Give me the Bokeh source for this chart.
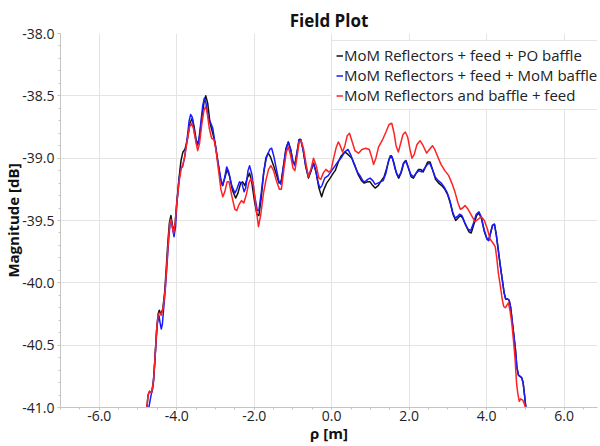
from bokeh.plotting import figure
from bokeh.models import Legend, LegendItem, PrintfTickFormatter, SingleIntervalTicker, Range1d
from bokeh.embed import file_html
from bokeh.resources import INLINE

# ---------------- data ----------------
title_text = "Field Plot"
x_label = "ρ [m]"
y_label = "Magnitude [dB]"
series_names = ["MoM Reflectors + feed + PO baffle",
                "MoM Reflectors + feed + MoM baffle",
                "MoM Reflectors and baffle + feed"]

rho_po = [-4.77, -4.74, -4.70, -4.65, -4.60, -4.56, -4.52, -4.48, -4.45, -4.41, -4.36, -4.31, -4.27, -4.23,
          -4.19, -4.15, -4.11, -4.08, -4.04, -4.00, -3.94, -3.89, -3.84, -3.79, -3.73, -3.66, -3.60, -3.55,
          -3.50, -3.46, -3.41, -3.35, -3.29, -3.25, -3.20, -3.14, -3.07, -3.01, -2.94, -2.87, -2.82, -2.76,
          -2.70, -2.64, -2.56, -2.48, -2.42, -2.35, -2.30, -2.24, -2.18, -2.12, -2.06, -1.99, -1.93, -1.88,
          -1.82, -1.76, -1.70, -1.64, -1.58, -1.50, -1.42, -1.36, -1.30, -1.24, -1.18, -1.12, -1.06, -1.00,
          -0.95, -0.89, -0.84, -0.80, -0.74, -0.67, -0.60, -0.53, -0.47, -0.40, -0.33, -0.26, -0.20, -0.13,
          -0.04, 0.04, 0.09, 0.17, 0.25, 0.34, 0.42, 0.52, 0.60, 0.68, 0.77, 0.84, 0.92, 0.99, 1.06, 1.12,
          1.20, 1.28, 1.35, 1.42, 1.48, 1.54, 1.60, 1.67, 1.73, 1.80, 1.86, 1.92, 1.98, 2.05, 2.11, 2.18,
          2.24, 2.30, 2.36, 2.42, 2.48, 2.54, 2.61, 2.68, 2.76, 2.84, 2.92, 2.99, 3.06, 3.13, 3.20, 3.26,
          3.32, 3.38, 3.46, 3.54, 3.60, 3.67, 3.74, 3.80, 3.87, 3.94, 4.01, 4.05, 4.10, 4.15, 4.20, 4.25,
          4.30, 4.35, 4.40, 4.45, 4.49, 4.54, 4.58, 4.62, 4.66, 4.70, 4.74, 4.78, 4.82, 4.86, 4.90, 4.94,
          4.98, 5.01]
mag_po = [-41.00, -40.90, -40.87, -40.88, -40.79, -40.60, -40.38, -40.25, -40.22, -40.25, -40.21, -40.07,
          -39.88, -39.68, -39.52, -39.46, -39.54, -39.59, -39.52, -39.36, -39.16, -39.02, -38.95, -38.93,
          -38.86, -38.72, -38.68, -38.75, -38.85, -38.89, -38.83, -38.67, -38.54, -38.50, -38.56, -38.72,
          -38.80, -38.88, -39.03, -39.17, -39.22, -39.16, -39.09, -39.14, -39.26, -39.32, -39.28, -39.20,
          -39.19, -39.22, -39.16, -39.12, -39.20, -39.35, -39.45, -39.46, -39.32, -39.13, -39.00, -38.96,
          -38.99, -39.06, -39.14, -39.20, -39.18, -39.05, -38.92, -38.87, -38.93, -39.03, -39.05, -38.94,
          -38.85, -38.85, -38.93, -39.07, -39.16, -39.10, -39.04, -39.12, -39.24, -39.31, -39.25, -39.20,
          -39.16, -39.12, -39.10, -39.03, -38.98, -38.95, -38.97, -39.00, -39.06, -39.13, -39.18, -39.20,
          -39.19, -39.19, -39.22, -39.24, -39.22, -39.18, -39.15, -39.08, -39.01, -38.98, -39.03, -39.12,
          -39.16, -39.11, -39.04, -39.02, -39.08, -39.15, -39.16, -39.12, -39.09, -39.09, -39.11, -39.07,
          -39.03, -39.03, -39.10, -39.17, -39.20, -39.22, -39.25, -39.29, -39.36, -39.45, -39.50, -39.48,
          -39.46, -39.48, -39.54, -39.59, -39.60, -39.53, -39.46, -39.44, -39.49, -39.59, -39.65, -39.66,
          -39.60, -39.54, -39.53, -39.62, -39.74, -39.86, -39.97, -40.08, -40.13, -40.13, -40.14, -40.20,
          -40.31, -40.42, -40.53, -40.68, -40.74, -40.75, -40.76, -40.80, -40.91, -41.00]

rho_mom = [-4.72, -4.68, -4.65, -4.62, -4.58, -4.54, -4.50, -4.46, -4.43, -4.40, -4.37, -4.33, -4.29, -4.25,
           -4.21, -4.17, -4.14, -4.10, -4.07, -4.03, -4.00, -3.95, -3.90, -3.85, -3.80, -3.73, -3.68, -3.64,
           -3.60, -3.54, -3.48, -3.44, -3.38, -3.33, -3.29, -3.25, -3.19, -3.12, -3.07, -3.00, -2.93, -2.86,
           -2.81, -2.76, -2.71, -2.66, -2.58, -2.50, -2.45, -2.38, -2.32, -2.26, -2.22, -2.16, -2.12, -2.06,
           -1.99, -1.92, -1.88, -1.82, -1.75, -1.68, -1.60, -1.55, -1.49, -1.42, -1.36, -1.31, -1.25, -1.18,
           -1.12, -1.06, -1.00, -0.95, -0.89, -0.84, -0.80, -0.74, -0.67, -0.60, -0.53, -0.47, -0.41, -0.35,
           -0.30, -0.25, -0.18, -0.09, 0.00, 0.09, 0.18, 0.26, 0.34, 0.42, 0.50, 0.58, 0.66, 0.73, 0.80,
           0.86, 0.93, 0.99, 1.06, 1.12, 1.19, 1.26, 1.33, 1.40, 1.46, 1.51, 1.56, 1.63, 1.71, 1.78, 1.85,
           1.90, 1.96, 2.04, 2.11, 2.18, 2.25, 2.32, 2.40, 2.47, 2.53, 2.60, 2.67, 2.75, 2.83, 2.90, 2.97,
           3.05, 3.12, 3.18, 3.24, 3.30, 3.36, 3.44, 3.52, 3.59, 3.66, 3.73, 3.80, 3.86, 3.93, 4.00, 4.05,
           4.10, 4.15, 4.20, 4.25, 4.30, 4.35, 4.40, 4.45, 4.49, 4.54, 4.58, 4.62, 4.66, 4.70, 4.74, 4.78,
           4.82, 4.86, 4.90, 4.94, 4.98, 5.01]
mag_mom = [-41.00, -40.93, -40.88, -40.85, -40.70, -40.50, -40.33, -40.26, -40.32, -40.37, -40.33, -40.18,
           -40.03, -39.85, -39.66, -39.52, -39.50, -39.58, -39.63, -39.55, -39.38, -39.20, -39.08, -39.07,
           -39.00, -38.84, -38.70, -38.65, -38.67, -38.80, -38.90, -38.88, -38.72, -38.58, -38.52, -38.55,
           -38.67, -38.72, -38.76, -38.90, -39.04, -39.17, -39.22, -39.15, -39.07, -39.11, -39.22, -39.28,
           -39.25, -39.19, -39.20, -39.27, -39.24, -39.10, -39.06, -39.13, -39.30, -39.42, -39.42, -39.28,
           -39.10, -38.99, -38.93, -38.92, -38.99, -39.10, -39.19, -39.21, -39.08, -38.93, -38.87, -38.93,
           -39.03, -39.06, -38.95, -38.85, -38.85, -38.93, -39.06, -39.15, -39.09, -39.04, -39.10, -39.20,
           -39.24, -39.22, -39.16, -39.14, -39.10, -39.06, -39.02, -38.99, -38.95, -38.93, -38.98, -39.05,
           -39.11, -39.14, -39.18, -39.19, -39.17, -39.16, -39.18, -39.21, -39.20, -39.19, -39.18, -39.12,
           -39.03, -38.98, -38.99, -39.08, -39.15, -39.12, -39.04, -39.02, -39.06, -39.13, -39.15, -39.12,
           -39.10, -39.11, -39.08, -39.05, -39.04, -39.09, -39.15, -39.18, -39.20, -39.23, -39.27, -39.34,
           -39.43, -39.48, -39.47, -39.45, -39.46, -39.52, -39.57, -39.58, -39.52, -39.45, -39.43, -39.47,
           -39.57, -39.64, -39.66, -39.60, -39.54, -39.53, -39.62, -39.74, -39.86, -39.97, -40.08, -40.13,
           -40.13, -40.14, -40.20, -40.31, -40.42, -40.53, -40.68, -40.74, -40.75, -40.76, -40.80, -40.91,
           -41.00]

rho_full = [-4.77, -4.74, -4.70, -4.65, -4.60, -4.56, -4.52, -4.48, -4.44, -4.40, -4.35, -4.30, -4.26, -4.22,
            -4.18, -4.15, -4.11, -4.08, -4.04, -4.00, -3.93, -3.88, -3.84, -3.79, -3.73, -3.67, -3.62, -3.57,
            -3.51, -3.46, -3.41, -3.35, -3.30, -3.26, -3.22, -3.16, -3.10, -3.04, -2.98, -2.92, -2.86, -2.81,
            -2.76, -2.70, -2.65, -2.58, -2.50, -2.45, -2.39, -2.33, -2.27, -2.21, -2.14, -2.08, -2.02, -1.96,
            -1.89, -1.83, -1.76, -1.70, -1.63, -1.57, -1.50, -1.43, -1.35, -1.30, -1.23, -1.17, -1.12, -1.06,
            -1.00, -0.95, -0.89, -0.84, -0.79, -0.73, -0.66, -0.60, -0.53, -0.47, -0.40, -0.33, -0.28, -0.22,
            -0.15, -0.08, -0.02, 0.05, 0.12, 0.17, 0.22, 0.28, 0.34, 0.40, 0.46, 0.52, 0.60, 0.69, 0.78, 0.88,
            0.97, 1.03, 1.08, 1.14, 1.21, 1.30, 1.40, 1.48, 1.55, 1.61, 1.66, 1.72, 1.78, 1.84, 1.90, 1.96,
            2.02, 2.07, 2.13, 2.20, 2.28, 2.36, 2.45, 2.52, 2.60, 2.66, 2.74, 2.82, 2.92, 3.02, 3.10, 3.18,
            3.26, 3.32, 3.38, 3.44, 3.52, 3.61, 3.70, 3.78, 3.86, 3.94, 4.02, 4.09, 4.16, 4.22, 4.26, 4.30,
            4.35, 4.40, 4.44, 4.48, 4.52, 4.56, 4.60, 4.65, 4.69, 4.73, 4.77, 4.80, 4.84, 4.88, 4.93, 4.97,
            5.00]
mag_full = [-41.00, -40.90, -40.87, -40.88, -40.79, -40.60, -40.38, -40.25, -40.24, -40.26, -40.20, -40.06,
            -39.87, -39.68, -39.52, -39.49, -39.56, -39.60, -39.52, -39.36, -39.17, -39.08, -39.05, -38.98,
            -38.86, -38.75, -38.72, -38.76, -38.86, -38.94, -38.88, -38.72, -38.62, -38.59, -38.62, -38.76,
            -38.84, -38.85, -38.95, -39.10, -39.25, -39.31, -39.27, -39.19, -39.19, -39.30, -39.41, -39.42,
            -39.37, -39.34, -39.36, -39.30, -39.20, -39.16, -39.22, -39.38, -39.55, -39.45, -39.28, -39.18,
            -39.09, -39.06, -39.10, -39.18, -39.25, -39.25, -39.08, -38.95, -38.91, -38.98, -39.08, -39.10,
            -38.98, -38.87, -38.86, -38.92, -39.05, -39.15, -39.08, -39.00, -39.06, -39.16, -39.17, -39.12,
            -39.09, -39.11, -39.10, -39.00, -38.91, -38.87, -38.90, -38.95, -38.90, -38.82, -38.80, -38.86,
            -38.94, -38.96, -38.93, -38.92, -38.93, -38.99, -39.05, -39.00, -38.91, -38.86, -38.79, -38.73,
            -38.72, -38.80, -38.90, -38.95, -38.88, -38.81, -38.79, -38.83, -38.93, -39.00, -38.97, -38.89,
            -38.86, -38.90, -38.96, -38.93, -38.90, -38.93, -38.99, -39.05, -39.10, -39.14, -39.20, -39.27,
            -39.36, -39.41, -39.40, -39.38, -39.41, -39.46, -39.51, -39.49, -39.47, -39.50, -39.57, -39.65,
            -39.68, -39.71, -39.80, -39.92, -40.02, -40.13, -40.19, -40.20, -40.18, -40.16, -40.22, -40.33,
            -40.46, -40.60, -40.80, -40.88, -40.95, -40.93, -40.94, -40.97, -41.00]

x_limits = (-7.0, 6.86)
y_limits = (-41.0, -38.0)

# ---------------- figure ----------------
FONT = "Open Sans"
p = figure(width=600, height=446, output_backend="svg", toolbar_location=None,
           x_range=Range1d(*x_limits), y_range=Range1d(*y_limits),
           min_border_left=60, min_border_right=3, min_border_top=33, min_border_bottom=39)
p.outline_line_color = None
p.background_fill_color = "white"
p.border_fill_color = "white"

p.title.text = title_text
p.title.align = "center"
p.title.text_font = FONT
p.title.text_font_style = "bold"
p.title.text_font_size = "17px"
p.title.text_color = "#111111"
p.title.standoff = 3

p.xaxis.ticker = SingleIntervalTicker(interval=2, num_minor_ticks=4)
p.yaxis.ticker = SingleIntervalTicker(interval=0.5, num_minor_ticks=5)
p.xaxis.formatter = PrintfTickFormatter(format="%.1f")
p.yaxis.formatter = PrintfTickFormatter(format="%.1f")
p.xaxis.axis_label = x_label
p.yaxis.axis_label = y_label
for ax in (p.xaxis, p.yaxis):
    ax.axis_label_text_font = FONT
    ax.axis_label_text_font_style = "bold"
    ax.axis_label_text_font_size = "15px"
    ax.axis_label_text_color = "#111111"
    ax.major_label_text_font = FONT
    ax.major_label_text_font_size = "14px"
    ax.major_label_text_color = "#222222"
    ax.axis_line_color = "#c4c4c4"
    ax.major_tick_line_color = "#c4c4c4"
    ax.minor_tick_line_color = "#c4c4c4"
    ax.major_tick_in = 0
    ax.minor_tick_in = 0
    ax.minor_tick_out = 2
p.yaxis.major_tick_out = 3
p.yaxis.major_label_standoff = 3
p.xaxis.major_tick_out = 2
p.xaxis.major_label_standoff = 1
p.xaxis.axis_label_standoff = -1
p.yaxis.axis_label_standoff = -4

p.xgrid.grid_line_color = "#e4e4e4"
p.ygrid.grid_line_color = "#e4e4e4"

r_po = p.line(rho_po, mag_po, line_color="#111111", line_width=1.5, line_join="round")
r_mom = p.line(rho_mom, mag_mom, line_color="#1a1aff", line_width=1.5, line_join="round")
r_full = p.line(rho_full, mag_full, line_color="#ff2222", line_width=1.5, line_join="round")

legend = Legend(items=[LegendItem(label=series_names[0], renderers=[r_po]),
                       LegendItem(label=series_names[1], renderers=[r_mom]),
                       LegendItem(label=series_names[2], renderers=[r_full])],
                location=(271, 297), margin=0, padding=4, spacing=-1,
                glyph_width=7, glyph_height=17, label_height=17, label_standoff=1,
                label_text_font=FONT, label_text_font_size="15px", label_text_color="#222222",
                border_line_color="#cccccc", background_fill_color="white", background_fill_alpha=1.0)
p.add_layout(legend)

open("out.html", "w").write(file_html(p, INLINE))
